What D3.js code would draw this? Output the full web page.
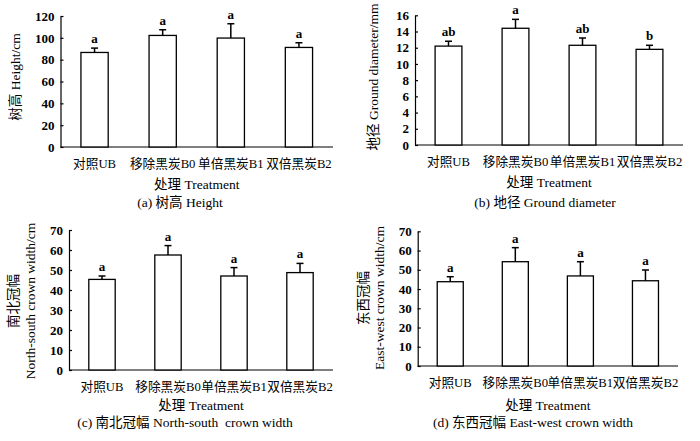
<!DOCTYPE html>
<html>
<head>
<meta charset="utf-8">
<script src="https://cdn.jsdelivr.net/npm/d3@7"></script>
<style>
  body { margin: 0; background: #fff; }
  svg { display: block; }
  text { font-family: "Liberation Serif", "Noto Sans CJK SC", serif; fill: #000; white-space: pre; }
</style>
</head>
<body>
<svg width="700" height="441"></svg>
<script>
// treatments
var categories = ["对照UB", "移除黑炭B0", "单倍黑炭B1", "双倍黑炭B2"];

// (a) height, cm
var heightMean = [86.6, 102.2, 99.8, 91.2];
var heightErr = [4.0, 5.2, 13.1, 4.3];
var heightSig = ["a", "a", "a", "a"];
var heightTicks = [0, 20, 40, 60, 80, 100, 120];

// (b) ground diameter, mm
var diamMean = [12.2, 14.4, 12.3, 11.8];
var diamErr = [0.6, 1.1, 0.9, 0.5];
var diamSig = ["ab", "a", "ab", "b"];
var diamTicks = [0, 2, 4, 6, 8, 10, 12, 14, 16];

// (c) north-south crown width, cm
var nsMean = [45.3, 57.5, 47.0, 48.7];
var nsErr = [1.7, 4.7, 4.2, 4.6];
var nsSig = ["a", "a", "a", "a"];

// (d) east-west crown width, cm
var ewMean = [43.8, 54.2, 46.8, 44.3];
var ewErr = [2.6, 7.3, 7.4, 5.6];
var ewSig = ["a", "a", "a", "a"];
var crownTicks = [0, 10, 20, 30, 40, 50, 60, 70];

var svg = d3.select("svg");

var panels = [
  { mean: heightMean, err: heightErr, sig: heightSig, ticks: heightTicks,
    x0: 60.5, x1: 333, yTop: 16, yBot: 147,
    ytitle: ["树高 Height/cm"], ytx: [17], yty: 77,
    treatY: 189, caption: "(a) 树高 Height", capX: 180, capY: 207 },
  { mean: diamMean, err: diamErr, sig: diamSig, ticks: diamTicks,
    x0: 415, x1: 683, yTop: 15.3, yBot: 145,
    ytitle: ["地径 Ground diameter/mm"], ytx: [375], yty: 77,
    treatY: 187, caption: "(b) 地径 Ground diameter", capX: 545, capY: 207 },
  { mean: nsMean, err: nsErr, sig: nsSig, ticks: crownTicks,
    x0: 69, x1: 333, yTop: 230, yBot: 370,
    ytitle: ["南北冠幅", "North-south crown width/cm"], ytx: [15, 32], yty: 301,
    treatY: 410, caption: "(c) 南北冠幅 North-south  crown width", capX: 185, capY: 427 },
  { mean: ewMean, err: ewErr, sig: ewSig, ticks: crownTicks,
    x0: 417.7, x1: 678, yTop: 231.3, yBot: 366,
    ytitle: ["东西冠幅", "East-west crown width/cm"], ytx: [365, 381], yty: 298,
    treatY: 410, caption: "(d) 东西冠幅 East-west crown width", capX: 533, capY: 427 }
];

panels.forEach(function(p) {
  var g = svg.append("g");
  var tmax = p.ticks[p.ticks.length - 1];

  var x = d3.scaleBand().domain(categories).range([p.x0, p.x1])
    .paddingInner(0.6).paddingOuter(0.3);
  var y = d3.scaleLinear().domain([0, tmax]).range([p.yBot, p.yTop]);

  // y axis, ticks point inward
  var yAxis = g.append("g")
    .attr("transform", "translate(" + p.x0 + ",0)")
    .call(d3.axisLeft(y).tickValues(p.ticks).tickSizeInner(-3).tickSizeOuter(0).tickPadding(6));
  yAxis.selectAll("path,line").attr("stroke", "#000").attr("stroke-width", 1.2);
  yAxis.selectAll("text").attr("font-size", 13).attr("font-family", "Liberation Serif").attr("font-weight", "bold");

  // x axis, no ticks
  var xAxis = g.append("g")
    .attr("transform", "translate(0," + p.yBot + ")")
    .call(d3.axisBottom(x).tickSize(0).tickPadding(12));
  xAxis.select("path").attr("d", "M" + p.x0 + ",0H" + p.x1).attr("stroke", "#000").attr("stroke-width", 1.2);
  xAxis.selectAll("text").attr("font-size", 12.7);

  var data = categories.map(function(c, i) {
    return { cat: c, mean: p.mean[i], err: p.err[i], sig: p.sig[i] };
  });

  // bars
  g.selectAll("rect.bar").data(data).enter().append("rect")
    .attr("class", "bar")
    .attr("x", function(d) { return x(d.cat); })
    .attr("y", function(d) { return y(d.mean); })
    .attr("width", x.bandwidth())
    .attr("height", function(d) { return p.yBot - y(d.mean); })
    .attr("fill", "#fff")
    .attr("stroke", "#000")
    .attr("stroke-width", 1.3);

  // upper error bars
  g.selectAll("line.err").data(data).enter().append("line")
    .attr("class", "err")
    .attr("x1", function(d) { return x(d.cat) + x.bandwidth() / 2; })
    .attr("x2", function(d) { return x(d.cat) + x.bandwidth() / 2; })
    .attr("y1", function(d) { return y(d.mean); })
    .attr("y2", function(d) { return y(d.mean + d.err); })
    .attr("stroke", "#000").attr("stroke-width", 1.5);
  g.selectAll("line.cap").data(data).enter().append("line")
    .attr("class", "cap")
    .attr("x1", function(d) { return x(d.cat) + x.bandwidth() / 2 - 3.5; })
    .attr("x2", function(d) { return x(d.cat) + x.bandwidth() / 2 + 3.5; })
    .attr("y1", function(d) { return y(d.mean + d.err); })
    .attr("y2", function(d) { return y(d.mean + d.err); })
    .attr("stroke", "#000").attr("stroke-width", 1.5);

  // significance letters
  g.selectAll("text.sig").data(data).enter().append("text")
    .attr("class", "sig")
    .attr("x", function(d) { return x(d.cat) + x.bandwidth() / 2; })
    .attr("y", function(d) { return y(d.mean + d.err) - 5; })
    .attr("text-anchor", "middle")
    .attr("font-size", 13)
    .attr("font-weight", "bold")
    .text(function(d) { return d.sig; });

  // y title
  p.ytitle.forEach(function(t, i) {
    g.append("text")
      .attr("transform", "translate(" + p.ytx[i] + "," + p.yty + ") rotate(-90)")
      .attr("text-anchor", "middle")
      .attr("dominant-baseline", "middle")
      .attr("font-size", 13.5)
      .text(t);
  });

  g.append("text")
    .attr("x", (p.x0 + p.x1) / 2).attr("y", p.treatY)
    .attr("text-anchor", "middle").attr("font-size", 13.5)
    .text("处理 Treatment");

  g.append("text")
    .attr("x", p.capX).attr("y", p.capY)
    .attr("text-anchor", "middle").attr("font-size", 13.5)
    .text(p.caption);
});
</script>
</body>
</html>
